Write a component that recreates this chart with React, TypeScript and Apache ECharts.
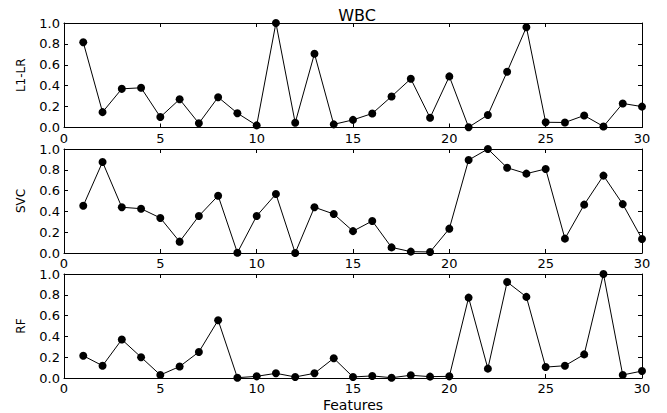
import React, { useEffect, useRef } from "react";
import * as echarts from "echarts";

const title = "WBC";
const xName = "Features";
const panelNames = ["L1-LR", "SVC", "RF"];
const features = [1, 2, 3, 4, 5, 6, 7, 8, 9, 10, 11, 12, 13, 14, 15, 16, 17, 18, 19, 20, 21, 22, 23, 24, 25, 26, 27, 28, 29, 30];

const l1lr = [0.815, 0.147, 0.37, 0.38, 0.10, 0.27, 0.04, 0.29, 0.137, 0.02, 1.0, 0.045, 0.706, 0.03, 0.073, 0.134, 0.297, 0.466, 0.093, 0.489, 0.003, 0.12, 0.534, 0.96, 0.05, 0.048, 0.115, 0.01, 0.23, 0.2];
const svc = [0.455, 0.875, 0.44, 0.426, 0.337, 0.109, 0.356, 0.551, 0.003, 0.356, 0.567, 0.0, 0.44, 0.375, 0.21, 0.308, 0.054, 0.013, 0.01, 0.234, 0.894, 1.0, 0.82, 0.763, 0.808, 0.138, 0.465, 0.744, 0.47, 0.135];
const rf = [0.214, 0.118, 0.37, 0.2, 0.029, 0.11, 0.25, 0.556, 0.003, 0.016, 0.045, 0.01, 0.045, 0.19, 0.01, 0.02, 0.003, 0.026, 0.013, 0.016, 0.773, 0.09, 0.923, 0.78, 0.105, 0.118, 0.227, 1.0, 0.029, 0.067];

const seriesValues = [l1lr, svc, rf];

const FONT = "DejaVu Sans";

export default function App() {
  const ref = useRef<HTMLDivElement>(null);
  useEffect(() => {
    if (!ref.current) return;
    const chart = echarts.init(ref.current, null, { renderer: "svg" });
    const grids = [
      { left: 64, right: 25, top: 23, height: 104.5 },
      { left: 64, right: 25, top: 149, height: 104 },
      { left: 64, right: 25, top: 274, height: 104.5 },
    ];
    const xAxis: any[] = [];
    const yAxis: any[] = [];
    const series: any[] = [];
    grids.forEach((g, i) => {
      const common = {
        gridIndex: i,
        min: 0,
        axisLine: { show: true, onZero: false, lineStyle: { color: "#000", width: 1 } },
        axisTick: { show: true, inside: true, length: 4, lineStyle: { color: "#000" } },
        splitLine: { show: false },
      };
      xAxis.push({
        ...common,
        type: "value",
        max: 30,
        interval: 5,
        position: "bottom",
        axisLabel: { color: "#000", fontSize: 13, fontFamily: FONT, margin: 4 },
        name: i === 2 ? xName : "",
        nameLocation: "middle",
        nameGap: 20,
        nameTextStyle: { color: "#000", fontSize: 14, fontFamily: FONT },
      });
      xAxis.push({
        ...common,
        type: "value",
        max: 30,
        interval: 5,
        position: "top",
        axisLabel: { show: false },
      });
      yAxis.push({
        ...common,
        type: "value",
        max: 1,
        interval: 0.2,
        position: "left",
        axisLabel: {
          color: "#000",
          fontSize: 13,
          fontFamily: FONT,
          margin: 4,
          formatter: (v: number) => v.toFixed(1),
        },
        name: panelNames[i],
        nameLocation: "middle",
        nameGap: 37,
        nameRotate: 90,
        nameTextStyle: { color: "#000", fontSize: 12, fontFamily: FONT },
      });
      yAxis.push({
        ...common,
        type: "value",
        max: 1,
        interval: 0.2,
        position: "right",
        axisLabel: { show: false },
      });
      series.push({
        type: "line",
        xAxisIndex: i * 2,
        yAxisIndex: i * 2,
        data: features.map((f, k) => [f, seriesValues[i][k]]),
        symbol: "circle",
        symbolSize: 8,
        lineStyle: { color: "#000", width: 1 },
        itemStyle: { color: "#000" },
        clip: true,
      });
    });
    chart.setOption({
      animation: false,
      backgroundColor: "#fff",
      title: {
        text: title,
        left: 352,
        textAlign: "center",
        top: 2,
        textStyle: { color: "#000", fontSize: 16, fontWeight: "normal", fontFamily: FONT },
      },
      grid: grids,
      xAxis,
      yAxis,
      series,
    });
    return () => chart.dispose();
  }, []);
  return <div ref={ref} style={{ width: 667, height: 413, position: "absolute", left: 0, top: 0 }} />;
}
